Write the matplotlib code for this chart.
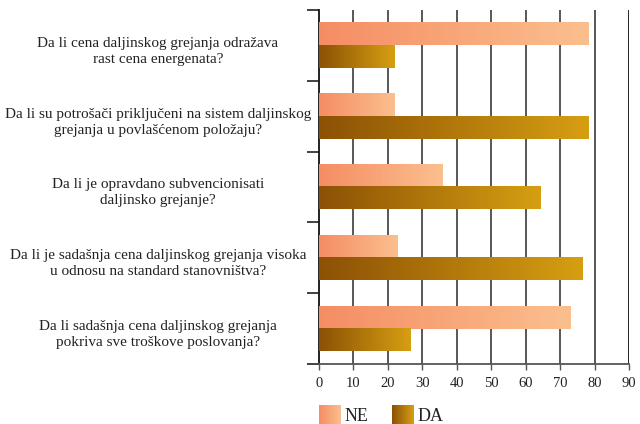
import matplotlib
matplotlib.use("Agg")
import matplotlib.pyplot as plt
import matplotlib.transforms as mtransforms
from matplotlib.colors import LinearSegmentedColormap
import numpy as np

plt.rcParams['font.family'] = ['Liberation Serif', 'DejaVu Serif']

questions = [
    "Da li cena daljinskog grejanja odražava\nrast cena energenata?",
    "Da li su potrošači priključeni na sistem daljinskog\ngrejanja u povlašćenom položaju?",
    "Da li je opravdano subvencionisati\ndaljinsko grejanje?",
    "Da li je sadašnja cena daljinskog grejanja visoka\nu odnosu na standard stanovništva?",
    "Da li sadašnja cena daljinskog grejanja\npokriva sve troškove poslovanja?",
]
ne_values = [78.2, 21.8, 35.8, 22.8, 72.8]
da_values = [21.8, 78.2, 64.2, 76.3, 26.6]
series_names = ["NE", "DA"]
x_ticks = [0, 10, 20, 30, 40, 50, 60, 70, 80, 90]

ne_cmap = LinearSegmentedColormap.from_list("ne", ["#F58D64", "#FBBF8E"])
da_cmap = LinearSegmentedColormap.from_list("da", ["#8C5105", "#D69F12"])
gradient = np.linspace(0, 1, 256).reshape(1, -1)

fig = plt.figure(figsize=(6.4, 4.24), dpi=100)
ax = fig.add_axes([0.4984, 0.1415, 0.4849, 0.8349])

pos = np.arange(len(questions))
h = 0.315
ne_bars = ax.barh(pos - h / 2, ne_values, height=h, color="none", zorder=3)
da_bars = ax.barh(pos + h / 2, da_values, height=h, color="none", zorder=3)

# fill each bar with a left-to-right gradient
for bars, cmap in [(ne_bars, ne_cmap), (da_bars, da_cmap)]:
    for b in bars:
        x0, y0 = b.get_x(), b.get_y()
        ax.imshow(gradient, cmap=cmap, aspect="auto", zorder=3,
                  extent=(x0, x0 + b.get_width(), y0 + b.get_height(), y0),
                  interpolation="bilinear")

ax.set_xlim(0, 90)
ax.set_ylim(len(questions) - 0.5, -0.5)
ax.set_xticks(x_ticks)
ax.set_xticklabels([str(t) for t in x_ticks], fontsize=10.5, color="#222222")
ax.tick_params(axis="x", direction="out", length=4, width=1, color="#555555", pad=5)

# category separators as outward ticks on the left
ax.set_yticks(np.arange(-0.5, len(questions) + 0.5, 1))
ax.set_yticklabels([])
ax.tick_params(axis="y", direction="out", length=9, width=1.2, color="#222222")

for x in x_ticks[1:]:
    ax.axvline(x, color="#4a4a4a" if x < 90 else "#111111", lw=1.3, zorder=1)

for s in ["top", "right"]:
    ax.spines[s].set_visible(False)
ax.spines["left"].set_color("#111111")
ax.spines["left"].set_linewidth(1.3)
ax.spines["bottom"].set_color("#555555")
ax.spines["bottom"].set_linewidth(1.3)

# question labels, two centred lines per category
trans = mtransforms.blended_transform_factory(fig.transFigure, ax.transData)
for i, q in enumerate(questions):
    for k, line in enumerate(q.split("\n")):
        ax.text(158 / 640, i + 0.02 + k * 0.225, line, transform=trans,
                ha="center", va="baseline", fontsize=11, color="#222222")

# legend along the bottom edge
lax = fig.add_axes([0, 0, 1, 1], zorder=-1)
lax.axis("off")
for x0, cmap, name in [(319, ne_cmap, series_names[0]), (392, da_cmap, series_names[1])]:
    lax.imshow(gradient, cmap=cmap, aspect="auto", extent=(x0, x0 + 22, 430, 405),
               interpolation="bilinear")
    lax.text(x0 + 26, 421, name, ha="left", va="baseline", fontsize=13, color="#222222")
lax.set_xlim(0, 640)
lax.set_ylim(424, 0)

fig.savefig("out.png", dpi=100)
